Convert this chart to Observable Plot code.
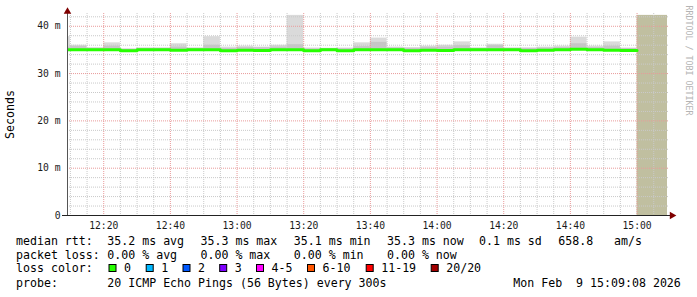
<!DOCTYPE html>
<html>
<head>
<meta charset="utf-8">
<script src="https://cdn.jsdelivr.net/npm/d3@7"></script>
<script src="https://cdn.jsdelivr.net/npm/@observablehq/plot@0.6"></script>
<style>
  html, body { margin: 0; padding: 0; background: #fff; }
  #chart { width: 697px; height: 297px; overflow: hidden; background: #fff; }
  #chart svg { display: block; }
  .legend text { font-family: "DejaVu Sans Mono", monospace; font-size: 11.6px; fill: #000; white-space: pre; }
</style>
</head>
<body>
<div id="chart"></div>
<script>
// ---------- data ----------
const sampleStarts = ["12:05","12:10","12:15","12:20","12:25","12:30","12:35","12:40","12:45","12:50",
  "12:55","13:00","13:05","13:10","13:15","13:20","13:25","13:30","13:35","13:40",
  "13:45","13:50","13:55","14:00","14:05","14:10","14:15","14:20","14:25","14:30",
  "14:35","14:40","14:45","14:50","14:55"];
const medianRtt = [35.05,35.05,35.05,35.05,34.82,35.05,35.05,34.95,35.05,35.05,
  34.82,34.95,34.90,35.05,35.05,34.82,35.05,34.82,35.05,35.05,
  35.05,34.82,34.95,34.88,35.05,35.05,35.05,35.05,34.82,34.95,
  35.05,35.12,35.05,34.95,34.88];
const smokeMin = [34.85,34.85,34.85,34.85,34.70,34.85,34.85,34.80,34.85,34.85,
  34.70,34.80,34.75,34.85,34.85,34.70,34.85,34.70,34.85,34.85,
  34.85,34.70,34.80,34.75,34.85,34.85,34.85,34.85,34.70,34.80,
  34.85,34.90,34.85,34.80,34.75];
const smokeMid = [35.60,35.70,35.35,35.80,35.15,35.35,35.35,35.60,35.35,36.00,
  35.30,35.50,35.45,35.60,36.10,35.20,35.30,35.25,35.70,36.60,
  35.40,35.30,35.55,35.60,35.90,35.35,35.90,35.35,35.30,35.40,
  35.50,36.30,35.50,35.80,35.30];
const smokeMax = [37.80,36.00,35.45,36.50,35.20,35.40,35.40,36.30,35.40,37.80,
  35.60,35.80,35.60,36.00,42.30,35.40,35.35,35.40,36.50,37.50,
  35.60,35.50,35.80,36.00,36.70,35.40,36.20,35.40,35.45,35.60,
  35.80,37.70,35.80,36.70,35.40];
const sampleStepMinutes = 5;
const windowStart = "12:09:08";
const windowEnd = "15:09:08";
const noDataStart = "15:00";
const noDataTop = 42.3;
const yMax = 42.7;

const xTickLabels = ["12:20","12:40","13:00","13:20","13:40","14:00","14:20","14:40","15:00"];
const yTickValues = [0, 10, 20, 30, 40];
const yTickLabels = ["0", "10 m", "20 m", "30 m", "40 m"];
const yAxisTitle = "Seconds";
const watermark = "RRDTOOL / TOBI OETIKER";

const legendRowLabels = ["median rtt:", "packet loss:", "loss color:", "probe:"];
const rttStats = ["35.2 ms avg", "35.3 ms max", "35.1 ms min", "35.3 ms now", "0.1 ms sd", "658.8", "am/s"];
const lossStats = ["0.00 % avg", "0.00 % max", "0.00 % min", "0.00 % now"];
const lossColorLabels = ["0", "1", "2", "3", "4-5", "6-10", "11-19", "20/20"];
const lossColors = ["#26ff00", "#00b8ff", "#0059ff", "#7e00ff", "#ff00ff", "#ff5500", "#ff0000", "#a10000"];
const probeText = "20 ICMP Echo Pings (56 Bytes) every 300s";
const dateText = "Mon Feb  9 15:09:08 2026";

// ---------- helpers ----------
const toDate = s => { const [h, m, sec] = s.split(":").map(Number); return new Date(Date.UTC(2026, 1, 9, h, m, sec || 0)); };
const stepMs = sampleStepMinutes * 60000;
const x0 = toDate(windowStart), x1 = toDate(windowEnd);

const samples = sampleStarts.map((s, i) => ({
  start: toDate(s), end: new Date(+toDate(s) + stepMs),
  median: medianRtt[i], min: smokeMin[i], mid: smokeMid[i], max: smokeMax[i]
}));
const medianPts = samples.map(d => ({t: d.start, v: d.median}))
  .concat([{t: samples[samples.length - 1].end, v: samples[samples.length - 1].median}]);

const xTickDates = xTickLabels.map(toDate);
const xLabelMap = new Map(xTickLabels.map(l => [+toDate(l), l]));

const minorX = d3.utcMinute.every(5).range(toDate("12:10"), x1).filter(d => !xLabelMap.has(+d));
const minorY = d3.range(2, 43, 2).filter(v => v % 10 !== 0);
const majorY = yTickValues.filter(v => v > 0);

const minorColor = "#c9c9c9";
const majorColor = "#e99a9a";

const plot = Plot.plot({
  width: 697, height: 232,
  marginLeft: 67, marginRight: 30, marginTop: 13, marginBottom: 17,
  style: {fontFamily: "DejaVu Sans Mono", fontSize: "9.7px", color: "#1a1a1a", background: "#fff", overflow: "visible"},
  x: {type: "utc", domain: [x0, x1], ticks: xTickDates, tickFormat: d => xLabelMap.get(+d), tickSize: 0, tickPadding: 7, label: null},
  y: {domain: [0, yMax], ticks: yTickValues, tickFormat: d => yTickLabels[yTickValues.indexOf(d)], tickSize: 0, tickPadding: 7, label: null},
  marks: [
    Plot.rect([{a: toDate(noDataStart), b: x1}], {x1: "a", x2: "b", y1: 0, y2: noDataTop, fill: "#c0bfa0"}),
    Plot.rect(samples, {x1: "start", x2: "end", y1: "min", y2: "max", fill: "#dadada", clip: true}),
    Plot.rect(samples, {x1: "start", x2: "end", y1: "min", y2: "mid", fill: "#c6c6c6", clip: true}),
    Plot.ruleX(minorX, {stroke: minorColor, strokeDasharray: "1,1"}),
    Plot.ruleY(minorY, {stroke: minorColor, strokeDasharray: "1,1", insetRight: -2}),
    Plot.ruleX(xTickDates, {stroke: majorColor, strokeDasharray: "1,1"}),
    Plot.ruleY(majorY, {stroke: majorColor, strokeDasharray: "1,1", insetRight: -2}),
    Plot.line(medianPts, {x: "t", y: "v", curve: "step-after", stroke: lossColors[0], strokeWidth: 3, clip: true}),
    Plot.ruleX([x0], {stroke: "#555", strokeWidth: 1, insetTop: -4}),
    Plot.ruleY([0], {stroke: "#222", strokeWidth: 1, insetLeft: -5, insetRight: -3}),
    Plot.dot([0], {frameAnchor: "top-left", dy: -2, symbol: "triangle", r: 2.8, fill: "#7f0000", stroke: "none"}),
    Plot.dot([0], {frameAnchor: "bottom-right", dx: 4.5, symbol: "triangle", rotate: 90, r: 2.8, fill: "#7f0000", stroke: "none"}),
    Plot.text([yAxisTitle], {frameAnchor: "left", text: d => d, dx: -57, rotate: -90, textAnchor: "middle", lineAnchor: "middle", fontSize: 11.6, fill: "#000"}),
    Plot.text([watermark], {frameAnchor: "top-right", text: d => d, dx: 21, dy: -8, rotate: 90, textAnchor: "start", lineAnchor: "middle", fontSize: 8.3, fill: "#b4b4b4"})
  ]
});

const chart = document.getElementById("chart");
chart.appendChild(plot);

// ---------- legend (below the plot) ----------
const legendTop = 232;
const leg = d3.create("svg").attr("class", "legend").attr("width", 697).attr("height", 297 - legendTop);
const rowBaselines = [245, 258.5, 272.2, 286.5].map(b => b - legendTop);
const labelX = 16;
legendRowLabels.forEach((t, i) => leg.append("text").attr("x", labelX).attr("y", rowBaselines[i]).text(t));

const rttX = [107.3, 200.5, 293.8, 387, 479, 558.3, 614];
rttStats.forEach((t, i) => leg.append("text").attr("x", rttX[i]).attr("y", rowBaselines[0]).text(t));
const lossX = [107.3, 200.5, 293.8, 387];
lossStats.forEach((t, i) => leg.append("text").attr("x", lossX[i]).attr("y", rowBaselines[1]).text(t));

const swatchX = [108.5, 145.7, 182.5, 219.2, 256, 307, 365.7, 430.7];
lossColorLabels.forEach((t, i) => {
  leg.append("rect").attr("x", swatchX[i] + 0.5).attr("y", rowBaselines[2] - 8.2 + 0.5)
    .attr("width", 7).attr("height", 7).attr("fill", lossColors[i]).attr("stroke", "#000").attr("stroke-width", 1);
  leg.append("text").attr("x", swatchX[i] + 15.5).attr("y", rowBaselines[2]).text(t);
});
leg.append("text").attr("x", 107.3).attr("y", rowBaselines[3]).text(probeText);
leg.append("text").attr("x", 513.3).attr("y", rowBaselines[3]).text(dateText);

chart.appendChild(leg.node());
</script>
</body>
</html>
